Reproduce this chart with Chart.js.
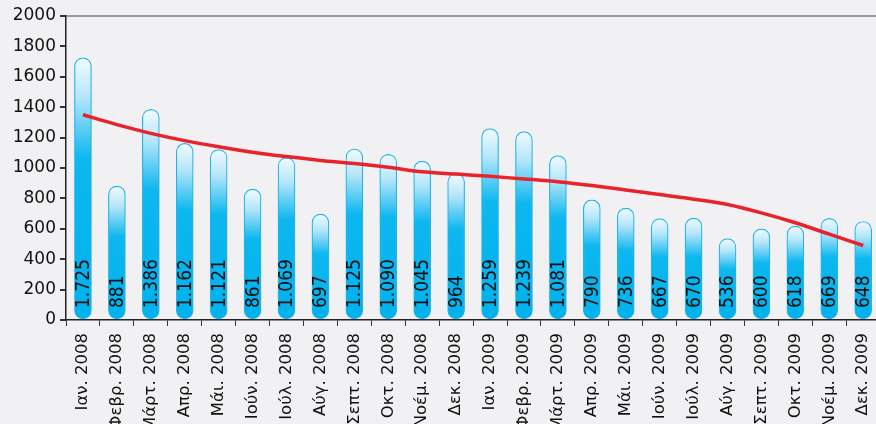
<!DOCTYPE html>
<html>
<head>
<meta charset="utf-8">
<script src="https://cdn.jsdelivr.net/npm/chart.js@4/dist/chart.umd.min.js"></script>
<style>
  html, body { margin: 0; padding: 0; overflow: hidden; background: #f1f1f3; }
  #wrap { width: 876px; height: 424px; overflow: hidden; }
  canvas { display: block; }
</style>
</head>
<body>
<div id="wrap"><canvas id="chart" width="890" height="440"></canvas></div>
<script>
// μήνες
const months = [
  'Ιαν. 2008', 'Φεβρ. 2008', 'Μάρτ. 2008', 'Απρ. 2008', 'Μάι. 2008', 'Ιούν. 2008',
  'Ιούλ. 2008', 'Αύγ. 2008', 'Σεπτ. 2008', 'Οκτ. 2008', 'Νοέμ. 2008', 'Δεκ. 2008',
  'Ιαν. 2009', 'Φεβρ. 2009', 'Μάρτ. 2009', 'Απρ. 2009', 'Μάι. 2009', 'Ιούν. 2009',
  'Ιούλ. 2009', 'Αύγ. 2009', 'Σεπτ. 2009', 'Οκτ. 2009', 'Νοέμ. 2009', 'Δεκ. 2009'
];

const values = [1725, 881, 1386, 1162, 1121, 861, 1069, 697, 1125, 1090, 1045, 964,
                1259, 1239, 1081, 790, 736, 667, 670, 536, 600, 618, 669, 648];

// γραμμή τάσης
const trend = [1350, 1285, 1228, 1180, 1140, 1104, 1075, 1050, 1030, 1005, 975, 960,
               945, 928, 910, 885, 855, 825, 795, 760, 705, 640, 565, 490];

const yTicks = [0, 200, 400, 600, 800, 1000, 1200, 1400, 1600, 1800, 2000];

function fmt(n) {
  return String(n).replace(/\B(?=(\d{3})+(?!\d))/g, '.');
}

// labels inside the bars, rotated
const barLabels = {
  id: 'barLabels',
  afterDatasetsDraw(chart) {
    const ctx = chart.ctx;
    const meta = chart.getDatasetMeta(1);
    const base = chart.scales.y.getPixelForValue(0);
    ctx.save();
    ctx.fillStyle = '#111';
    ctx.font = '19px "DejaVu Sans Condensed", "Liberation Sans Narrow", sans-serif';
    ctx.textAlign = 'left';
    ctx.textBaseline = 'middle';
    meta.data.forEach((bar, i) => {
      ctx.save();
      ctx.translate(bar.x + 1, base - 12);
      ctx.rotate(-Math.PI / 2);
      ctx.fillText(fmt(values[i]), 0, 0);
      ctx.restore();
    });
    ctx.restore();
  }
};

function barFill(c) {
  const chart = c.chart;
  if (!chart.chartArea) return '#00b4ee';
  const y = chart.scales.y;
  const top = y.getPixelForValue(c.raw);
  const bottom = y.getPixelForValue(0);
  const g = chart.ctx.createLinearGradient(0, top, 0, bottom);
  g.addColorStop(0, '#f2fbff');
  g.addColorStop(0.15, '#b5e6f9');
  g.addColorStop(0.38, '#0db7ef');
  g.addColorStop(1, '#00b2ed');
  return g;
}

new Chart(document.getElementById('chart'), {
  data: {
    labels: months,
    datasets: [
      {
        type: 'line',
        data: trend,
        borderColor: '#e8232b',
        borderWidth: 3.5,
        pointRadius: 0,
        tension: 0.3,
        order: 0
      },
      {
        type: 'bar',
        data: values,
        backgroundColor: barFill,
        borderColor: '#27b2e6',
        borderWidth: 1.2,
        borderRadius: 9,
        borderSkipped: false,
        barThickness: 17,
        order: 1
      }
    ]
  },
  options: {
    responsive: false,
    animation: false,
    layout: { padding: { top: 16, right: 0, bottom: 0, left: 0 } },
    plugins: { legend: { display: false }, tooltip: { enabled: false } },
    scales: {
      x: {
        grid: { color: 'transparent', tickColor: '#333', tickLength: 6, offset: true },
        border: { color: '#222', width: 1.5 },
        ticks: {
          minRotation: 90, maxRotation: 90, padding: 7, color: '#111',
          font: { family: 'DejaVu Sans', size: 16.5 }
        },
        afterFit(s) { s.height = 120; }
      },
      y: {
        min: 0, max: 2000,
        afterBuildTicks(s) { s.ticks = yTicks.map(v => ({ value: v })); },
        grid: {
          color: c => c.tick && c.tick.value === 2000 ? '#9a9a9c' : 'transparent',
          lineWidth: 2,
          tickColor: '#333', tickLength: 6
        },
        border: { color: '#222', width: 1.5 },
        ticks: {
          padding: 4, color: '#111',
          font: { family: 'DejaVu Sans', size: 17 },
          callback: v => String(v)
        },
        afterFit(s) { s.width = 66; }
      }
    }
  },
  plugins: [barLabels]
});
</script>
</body>
</html>
